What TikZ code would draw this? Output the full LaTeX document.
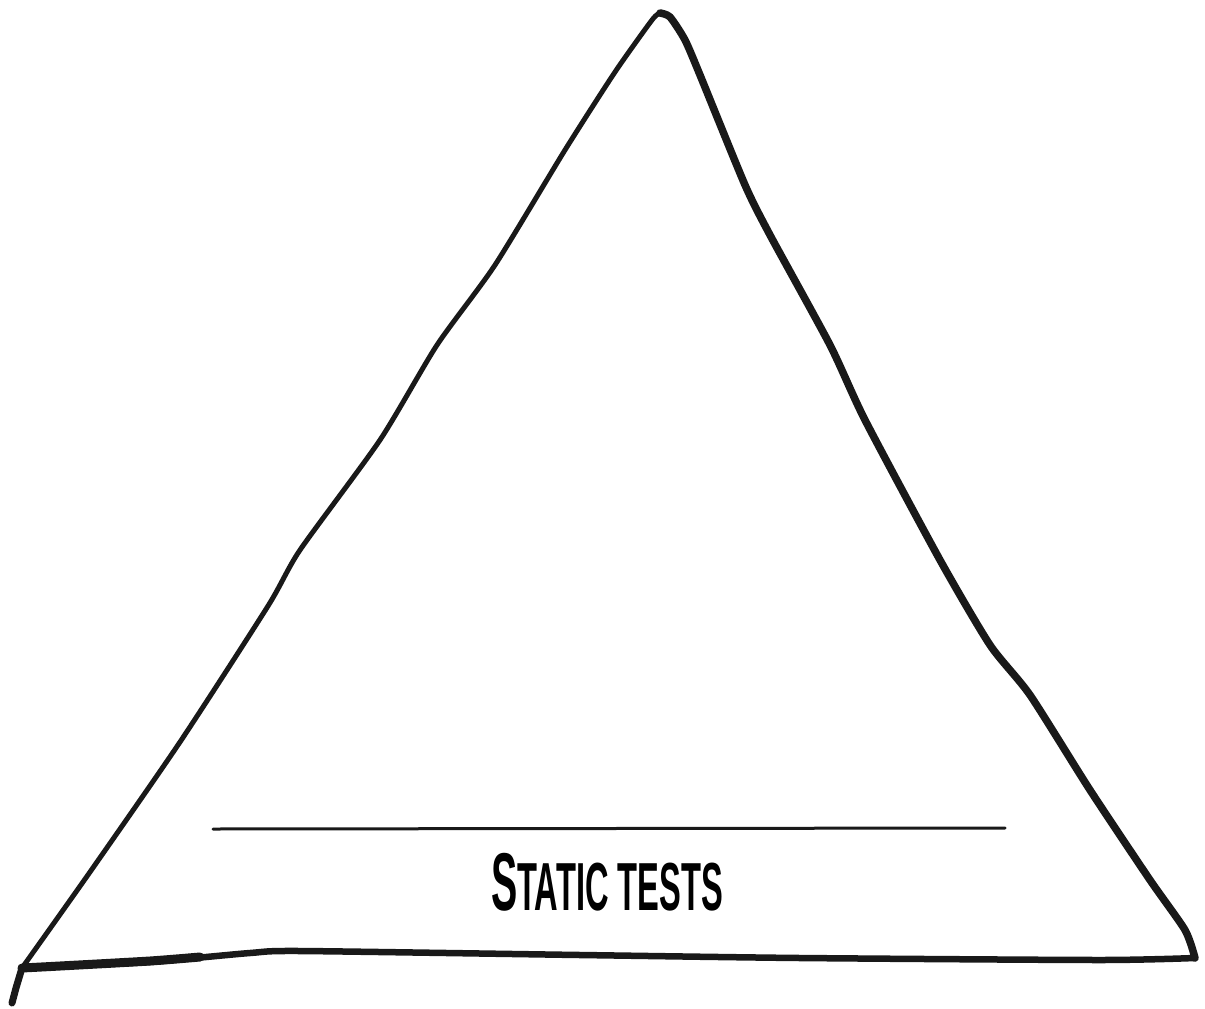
\documentclass[tikz,border=0pt]{standalone}
\usepackage{fontspec}
\setmainfont{Liberation Sans}
\begin{document}
\begin{tikzpicture}[x=1pt,y=-1pt,
  sketch/.style={draw=black!90,line cap=round,line join=round},
  label/.style={font=\bfseries\fontsize{82}{82}\selectfont, inner sep=0pt}]
\useasboundingbox (0,0) rectangle (1205,1009);
\coordinate (apex) at (660,13);
\coordinate (bl) at (22,968);
\coordinate (br) at (1195,958);
% left side
\draw[sketch,line width=5pt] plot[smooth,tension=0.4] coordinates {(bl) (90,872) (180,742) (268,606) (300,550) (380,440) (437,345) (495,265) (565,150) (615,72) (652,20) (apex)};
% right side
\draw[sketch,line width=7.5pt] plot[smooth,tension=0.4] coordinates {(apex) (670,17) (685,40) (700,75) (745,185) (770,235) (830,345) (865,420) (940,560) (990,645) (1030,695) (1090,790) (1150,880) (1185,930) (br)};
% bottom side
\draw[sketch,line width=6.5pt] plot[smooth,tension=0.4] coordinates {(br) (1100,960) (800,958) (580,955) (300,951) (250,953) (150,962) (60,966) (bl)};
\draw[sketch,line width=9pt] plot[smooth,tension=0.4] coordinates {(bl) (60,966) (150,961) (200,957)};
\draw[sketch,line width=7pt] (bl) -- (16,988) -- (12,1003);
% divider
\coordinate (dl) at (213,829);
\coordinate (dr) at (1005,828);
\draw[sketch,line width=3pt] (dl) -- (dr);
% label
\node[label] (lbl) at (607,882) {\scalebox{0.48}[1]{S\fontsize{68}{68}\selectfont TATIC TESTS}};
\end{tikzpicture}
\end{document}
